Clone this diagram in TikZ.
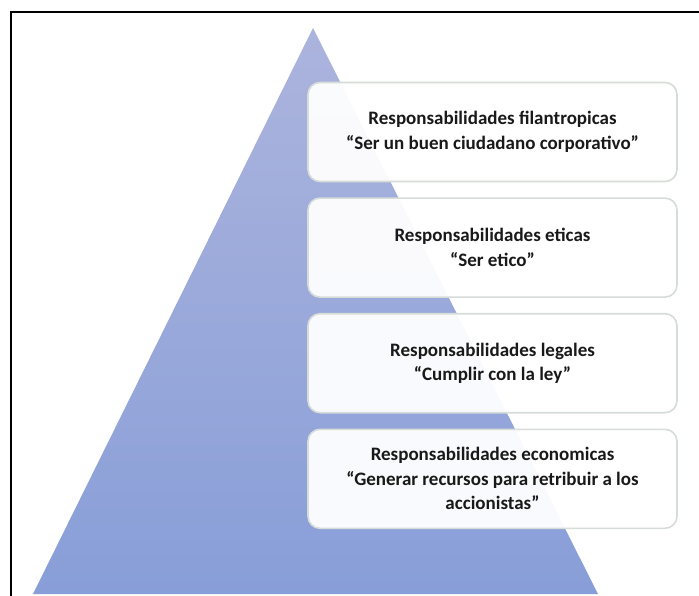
\documentclass[tikz,border=0pt]{standalone}
\usepackage{fontspec}
\setmainfont{Carlito}
\usepackage{tikz}
\usepackage{xcolor}
\usetikzlibrary{positioning}

\definecolor{pyrtop}{RGB}{172,180,221}
\definecolor{pyrbot}{RGB}{136,158,216}
\definecolor{boxline}{RGB}{214,220,216}

\begin{document}
\begin{tikzpicture}[
  x=1pt,y=-1pt,
  node distance=15pt,
  layer/.style={draw=boxline,line width=1.6pt,rounded corners=12pt,fill=white,fill opacity=0.95,text opacity=1,
    minimum width=369pt,minimum height=99pt,align=center,font=\fontsize{19}{24.5}\selectfont\bfseries,text=black!90},
  frame/.style={line width=2pt,black}
]
\useasboundingbox (0,0) rectangle (699,596);
\draw[frame] (11,600) -- (11,12) -- (702,12);
% pyramid
\coordinate (apex) at (313,28);
\coordinate (baseL) at (33,594);
\coordinate (baseR) at (598,594);
\shade[top color=pyrtop,bottom color=pyrbot] (apex) -- (baseR) -- (baseL) -- cycle;
% levels
\node[layer] (filan) at (492.5,132) {Responsabilidades filantropicas\\``Ser un buen ciudadano corporativo''};
\node[layer,below=of filan] (etic) {Responsabilidades eticas\\``Ser etico''};
\node[layer,below=of etic] (legal) {Responsabilidades legales\\``Cumplir con la ley''};
\node[layer,below=of legal] (econ) {Responsabilidades economicas\\``Generar recursos para retribuir a los\\accionistas''};
\end{tikzpicture}
\end{document}
